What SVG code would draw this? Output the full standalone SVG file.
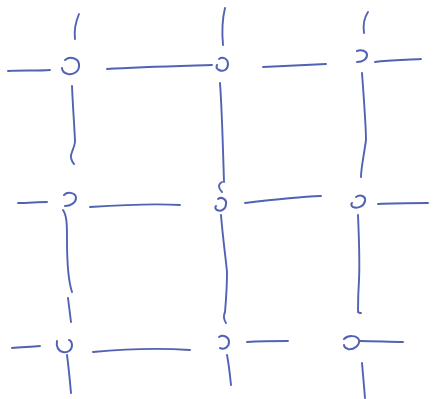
<svg xmlns="http://www.w3.org/2000/svg" width="433" height="399" viewBox="0 0 433 399">
<style>
path{fill:none;stroke:#5262b2;stroke-width:1.9;stroke-linecap:round;stroke-linejoin:round}
.n path{stroke-width:2}
</style>
<rect width="433" height="399" fill="#ffffff"/>
<g id="connectors">
<path d="M79,14 C76,21 74,30 75,39"/>
<path d="M8,71 C20,70 38,71 50,70"/>
<path d="M107,69 C140,67 180,66 212,65"/>
<path d="M225,8 C222,20 222,34 223,45"/>
<path d="M263,67 C285,66 305,65 326,64"/>
<path d="M368,12 C364,18 363,26 364,33"/>
<path d="M375,62 C390,60 405,60 421,59"/>
<path d="M72,86 C73,110 75,135 75,142 C74,150 70,153 71,158 C72,162 73,163 74,164"/>
<path d="M220,83 C222,110 223,150 224,182"/>
<path d="M222,182 C218,184 218,188 222,192"/>
<path d="M362,73 C364,100 366,130 366,140 C364,155 361,168 361,177"/>
<path d="M18,203 C28,203 38,202 47,202"/>
<path d="M90,207 C120,205 150,203 180,205"/>
<path d="M245,203 C270,200 295,197 321,196"/>
<path d="M378,204 C395,203 412,203 428,203"/>
<path d="M63,210 C67,216 67,225 67,240 C67,260 68,280 72,292"/>
<path d="M68,298 C69,306 70,314 71,322"/>
<path d="M221,215 C223,240 226,260 227,272 C227,290 226,300 225,312 C223,316 224,320 226,323"/>
<path d="M358,215 C359,240 360,260 359,280 C358,295 358,305 358,312 C359,313 360,313 361,313"/>
<path d="M12,348 C22,347 31,347 40,346"/>
<path d="M93,352 C125,349 160,348 190,350"/>
<path d="M247,342 C262,341 276,341 288,341"/>
<path d="M360,341 C375,341 390,342 403,342"/>
<path d="M67,355 C69,370 70,382 71,393"/>
<path d="M227,355 C229,365 230,375 231,385"/>
<path d="M362,363 C363,375 364,387 365,398"/>
</g>
<g id="node-1-1" class="n"><path d="M65,60 C70,56 78,58 79,64 C80,71 74,75 68,74 C64,73 62,71 62,68"/></g>
<g id="node-1-2" class="n"><path d="M219,59 C223,56 228,59 228,64 C228,70 223,72 219,70 C217,69 216,67 217,65"/></g>
<g id="node-1-3" class="n"><path d="M357,51 C361,49 367,51 367,55 C367,59 363,62 357,62"/></g>
<g id="node-2-1" class="n"><path d="M64,195 C68,191 76,193 76,198 C76,203 70,206 65,206"/></g>
<g id="node-2-2" class="n"><path d="M218,199 C222,196 227,200 226,204 C226,209 221,212 217,210 C215,209 215,207 216,206"/></g>
<g id="node-2-3" class="n"><path d="M356,197 C360,194 366,196 365,201 C364,206 358,209 353,207 C351,206 351,204 352,203"/></g>
<g id="node-3-1" class="n"><path d="M57,341 C56,346 58,351 63,352 C68,353 72,350 72,345 C72,342 70,340 69,340"/></g>
<g id="node-3-2" class="n"><path d="M219,337 C223,334 229,337 229,342 C229,347 224,350 220,348"/></g>
<g id="node-3-3" class="n"><path d="M344,339 C348,335 357,335 359,340 C360,346 353,350 348,349 C345,348 344,346 344,345"/></g>
</svg>
